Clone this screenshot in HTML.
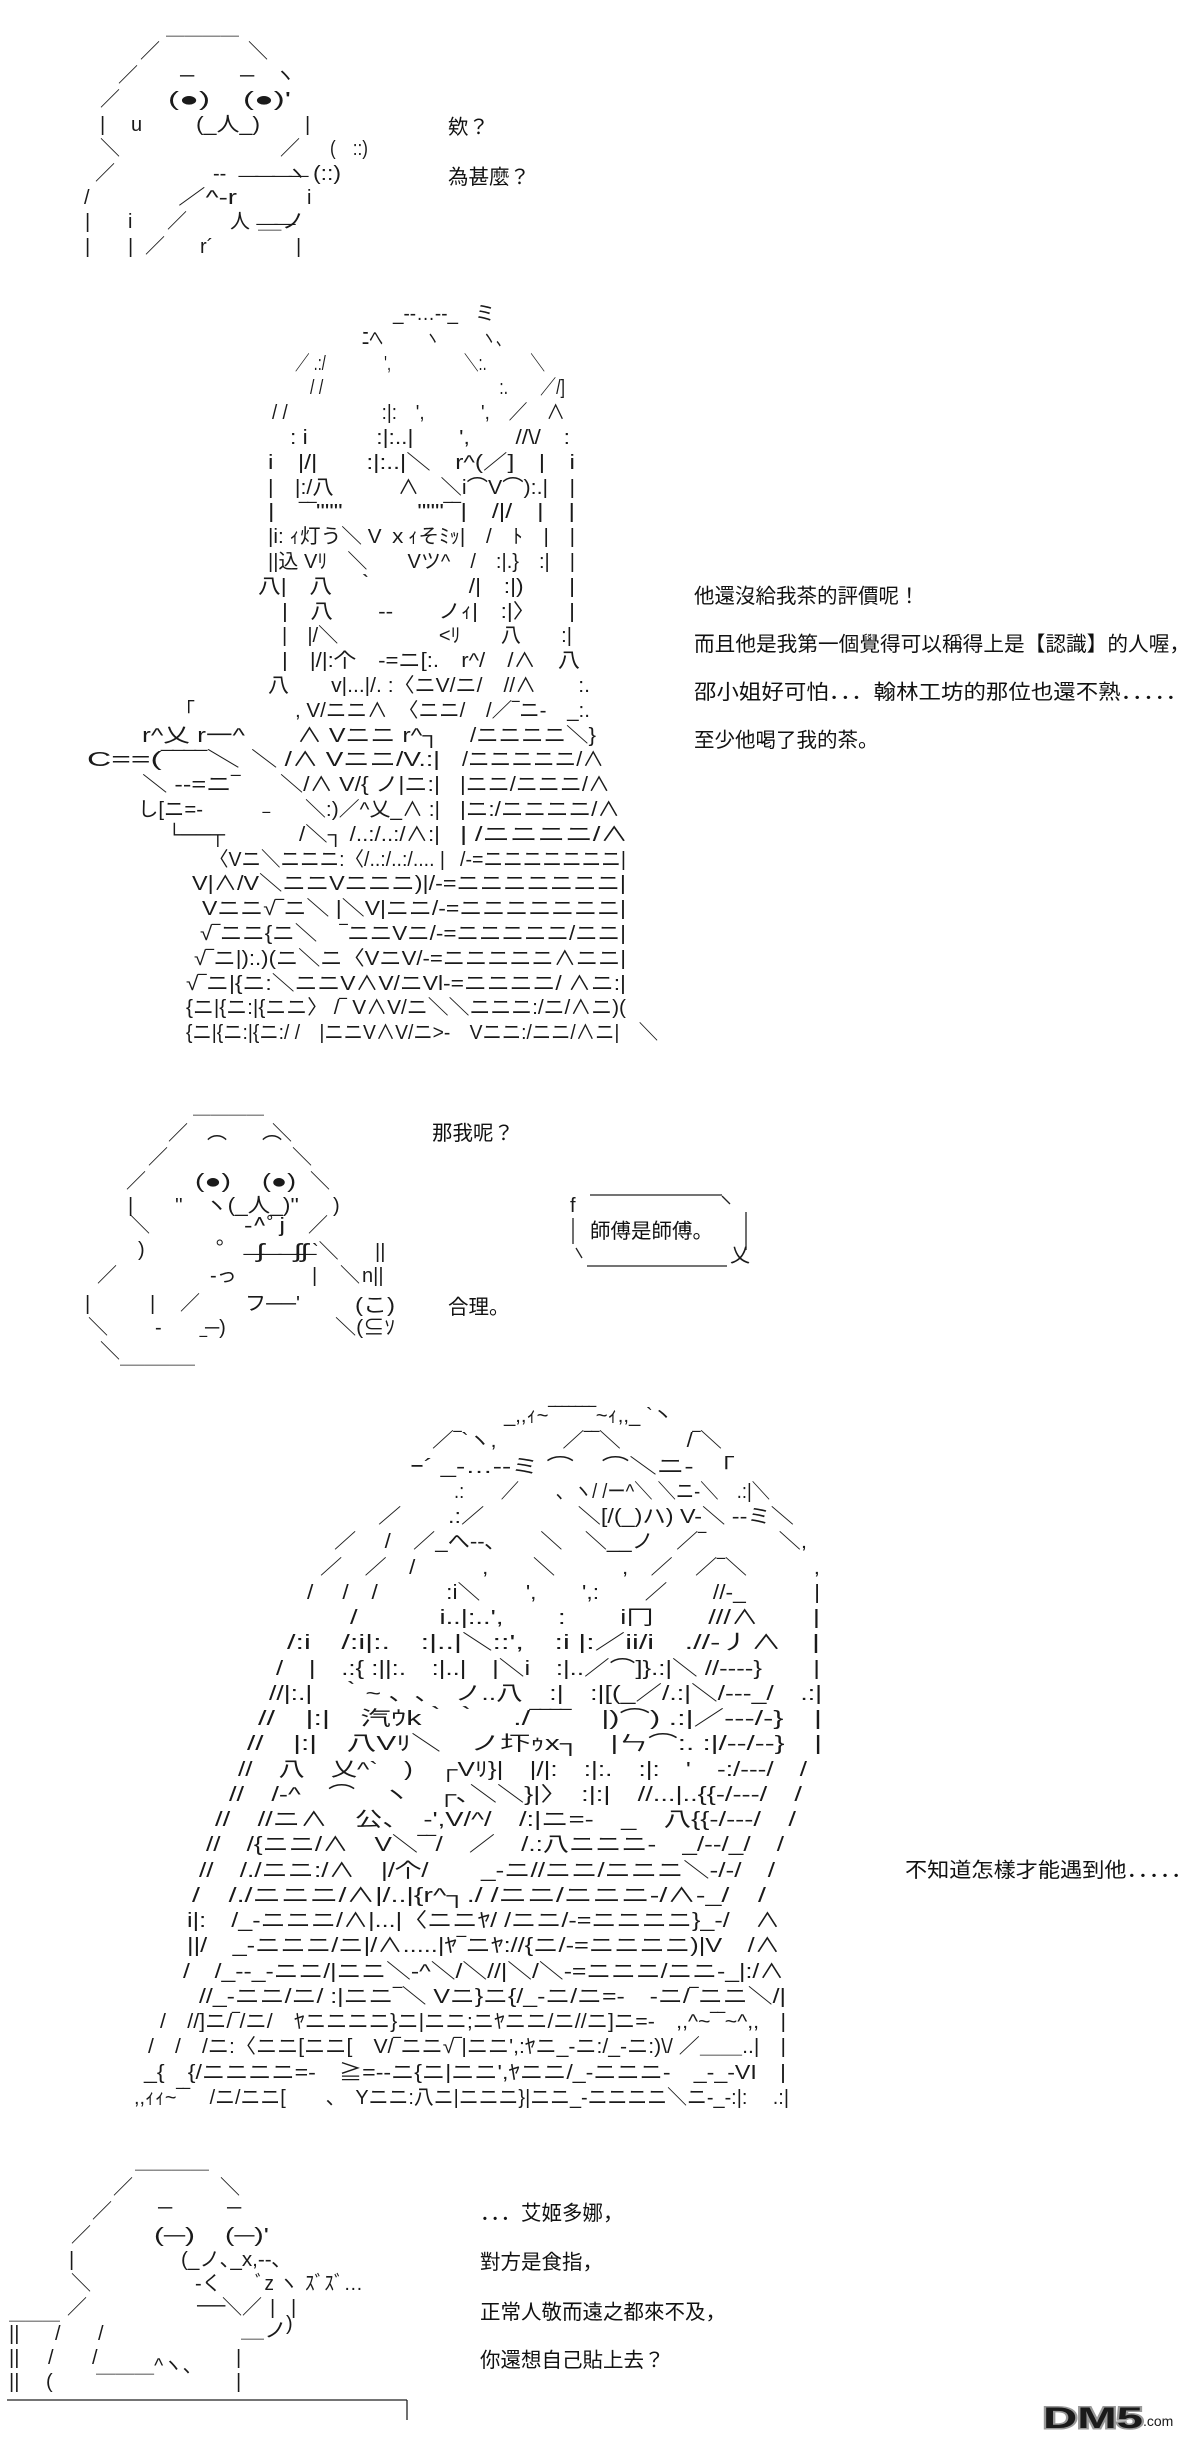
<!DOCTYPE html>
<html><head><meta charset="utf-8"><style>
html,body{margin:0;padding:0;background:#fff;}
svg{display:block}
text{font-family:"Liberation Sans","Noto Sans CJK JP",sans-serif;fill:#1a1a1a;white-space:pre}
.a{font-size:20px}
.t{font-size:20.5px;fill:#111}
</style></head><body>
<svg width="1200" height="2446" viewBox="0 0 1200 2446" xmlns="http://www.w3.org/2000/svg" xml:space="preserve">
<rect width="1200" height="2446" fill="#fff"/>

<!-- Panel 1 -->
<g class="a">
<text x="166" y="34" textLength="73" lengthAdjust="spacingAndGlyphs">＿＿＿＿</text>
<text x="140" y="58">／</text><text x="248" y="58">＼</text>
<text x="118" y="82">／</text><text x="180" y="82">─</text><text x="240" y="82">─</text><text x="275" y="82">ヽ</text>
<text x="100" y="106">／</text><text x="168" y="106" textLength="42" lengthAdjust="spacingAndGlyphs">(●)</text><text x="243" y="106" textLength="48" lengthAdjust="spacingAndGlyphs">(●)'</text>
<text x="100" y="131">|</text><text x="131" y="131">u</text><text x="196" y="131" textLength="64" lengthAdjust="spacingAndGlyphs">(_人_)</text><text x="305" y="131">|</text>
<text x="100" y="155">＼</text><text x="280" y="155">／</text><text x="330" y="155" textLength="38" lengthAdjust="spacingAndGlyphs">(　::)</text>
<text x="95" y="180">／</text><text x="213" y="180">‐‐</text><text x="287" y="180">ヽ</text><text x="313" y="180" textLength="28" lengthAdjust="spacingAndGlyphs">(::)</text>
<text x="84" y="204">/</text><text x="178" y="204" textLength="59" lengthAdjust="spacingAndGlyphs">／^‐r</text><text x="240" y="192" textLength="67" lengthAdjust="spacingAndGlyphs">‾‾‾‾</text><text x="307" y="204">i</text>
<text x="85" y="228">|</text><text x="128" y="228">i</text><text x="167" y="228">／</text><text x="230" y="228">人</text><text x="258" y="228" textLength="47" lengthAdjust="spacingAndGlyphs">＿ノ</text>
<text x="85" y="253">|</text><text x="128" y="253">|</text><text x="145" y="253">／</text><text x="200" y="253">r´</text><text x="258" y="240" textLength="36" lengthAdjust="spacingAndGlyphs">‾‾</text><text x="296" y="253">|</text>
</g>
<text class="t" x="448" y="134">欸？</text>
<text class="t" x="448" y="184">為甚麼？</text>

<!-- Figure A -->
<g class="a">
<text x="393" y="320" textLength="65" lengthAdjust="spacingAndGlyphs">_-‐…‐-_</text><text x="475" y="320">ミ</text>
<text x="362" y="345" textLength="148" lengthAdjust="spacingAndGlyphs">ﾆへ　　　ヽ　　　ヽ、</text>
<text x="295" y="370" textLength="250" lengthAdjust="spacingAndGlyphs">／ .:/　　　　',　　　　　＼:.　　　＼</text>
<text x="310" y="394" textLength="255" lengthAdjust="spacingAndGlyphs">/ /　　　　　　　　　　　:.　　／/]</text>
<text x="272" y="419" textLength="293" lengthAdjust="spacingAndGlyphs">/ /　　　　　:|:　',　　　',　／　∧</text>
<text x="290" y="444" textLength="280" lengthAdjust="spacingAndGlyphs">: i　　　:|:..|　　',　　//\/　:</text>
<text x="268" y="469" textLength="307" lengthAdjust="spacingAndGlyphs">i　|/|　　:|:..|＼　r^(／]　|　i</text>
<text x="268" y="494" textLength="307" lengthAdjust="spacingAndGlyphs">|　|:/八　　　∧　＼i⌒V⌒):.|　|</text>
<text x="268" y="518" textLength="307" lengthAdjust="spacingAndGlyphs">|　‾‾"""　　　"""‾‾|　/|/　|　|</text>
<text x="268" y="543" textLength="307" lengthAdjust="spacingAndGlyphs">|i: ｨ灯う＼ V ｘｨそﾐｯ|　/　ﾄ　|　|</text>
<text x="268" y="568" textLength="307" lengthAdjust="spacingAndGlyphs">||込 Vﾘ　＼　　Vツ^　/　:|.}　:|　|</text>
<text x="258" y="593" textLength="317" lengthAdjust="spacingAndGlyphs">八|　八　｀　　　　/|　:|)　　|</text>
<text x="282" y="618" textLength="293" lengthAdjust="spacingAndGlyphs">|　八　　‐‐　　ノｨ|　:|〉　　|</text>
<text x="282" y="642" textLength="290" lengthAdjust="spacingAndGlyphs">|　|/＼　　　　　&lt;ﾘ　　八　　:|</text>
<text x="282" y="667" textLength="298" lengthAdjust="spacingAndGlyphs">|　|/|:个　-=ニ[:.　r^/　/∧　八</text>
<text x="268" y="692" textLength="322" lengthAdjust="spacingAndGlyphs">八　　v|...|/. :〈ニV/ニ/　//∧　　:.</text>
<text x="175" y="717">「</text><text x="295" y="717" textLength="295" lengthAdjust="spacingAndGlyphs">, V/ニニ∧　〈ニニ/　/／‾ニ-　_:.</text>
<text x="142" y="742" textLength="103" lengthAdjust="spacingAndGlyphs">r^乂 r一^</text><text x="297" y="742" textLength="143" lengthAdjust="spacingAndGlyphs">∧ Vニニ r^┐</text><text x="470" y="742" textLength="126" lengthAdjust="spacingAndGlyphs">/ニニニニ＼}</text>
<text x="87" y="766" textLength="153" lengthAdjust="spacingAndGlyphs">C==(‾‾‾‾＼</text><text x="251" y="766" textLength="189" lengthAdjust="spacingAndGlyphs">＼ /∧ Vニニ/V.:|</text><text x="462" y="766" textLength="142" lengthAdjust="spacingAndGlyphs">/ニニニニニ/∧</text>
<text x="142" y="791" textLength="98" lengthAdjust="spacingAndGlyphs">＼ --=ニ‾</text><text x="280" y="791" textLength="160" lengthAdjust="spacingAndGlyphs">＼/∧ V/{ ノ|ニ:|</text><text x="460" y="791" textLength="150" lengthAdjust="spacingAndGlyphs">|ニニ/ニニニ/∧</text>
<text x="138" y="816" textLength="65" lengthAdjust="spacingAndGlyphs">し[ニ=-</text><text x="305" y="816" textLength="135" lengthAdjust="spacingAndGlyphs">＼:)／^乂_∧ :|</text><text x="460" y="816" textLength="160" lengthAdjust="spacingAndGlyphs">|ニ:/ニニニニ/∧</text>
<text x="167" y="841" textLength="58" lengthAdjust="spacingAndGlyphs">└──┬</text><text x="263" y="828">‾</text><text x="299" y="841" textLength="141" lengthAdjust="spacingAndGlyphs">/＼┐ /..:/..:/∧:|</text><text x="460" y="841" textLength="168" lengthAdjust="spacingAndGlyphs">| /ニニニニ/∧</text>
<text x="209" y="866" textLength="236" lengthAdjust="spacingAndGlyphs">〈Vニ＼ニニニ:〈/..:/..:/.... |</text><text x="460" y="866" textLength="166" lengthAdjust="spacingAndGlyphs">/-=ニニニニニニニ|</text>
<text x="192" y="890" textLength="434" lengthAdjust="spacingAndGlyphs">V|∧/V＼ニニVニニニ)|/-=ニニニニニニニ|</text>
<text x="202" y="915" textLength="424" lengthAdjust="spacingAndGlyphs">Vニニ√‾ニ＼ |＼V|ニニ/-=ニニニニニニニ|</text>
<text x="200" y="940" textLength="426" lengthAdjust="spacingAndGlyphs">√‾ニニ{ニ＼　‾ニニVニ/-=ニニニニニ/ニニ|</text>
<text x="194" y="965" textLength="432" lengthAdjust="spacingAndGlyphs">√‾ニ|):.)(ニ＼ニ〈VニV/-=ニニニニニ∧ニニ|</text>
<text x="186" y="990" textLength="440" lengthAdjust="spacingAndGlyphs">√‾ニ|{ニ:＼ニニV∧V/ニVl-=ニニニニ/ ∧ニ:|</text>
<text x="186" y="1014" textLength="440" lengthAdjust="spacingAndGlyphs">{ニ|{ニ:|{ニニ〉 /‾ V∧V/ニ＼＼ニニニ:/ニ/∧ニ)(</text>
<text x="186" y="1039" textLength="472" lengthAdjust="spacingAndGlyphs">{ニ|{ニ:|{ニ:/ /　|ニニV∧V/ニ&gt;-　Vニニ:/ニニ/∧ニ|　＼</text>
</g>
<text class="t" x="694" y="603">他還沒給我茶的評價呢！</text>
<text class="t" x="694" y="651" textLength="496" lengthAdjust="spacingAndGlyphs">而且他是我第一個覺得可以稱得上是【認識】的人喔，</text>
<text class="t" x="694" y="699" textLength="494" lengthAdjust="spacingAndGlyphs">邵小姐好可怕．．．翰林工坊的那位也還不熟．．．．．</text>
<text class="t" x="694" y="747">至少他喝了我的茶。</text>

<!-- Panel 3 -->
<g class="a">
<text x="193" y="1113" textLength="71" lengthAdjust="spacingAndGlyphs">＿＿＿＿</text>
<text x="168" y="1140">／</text><text x="272" y="1140">＼</text>
<text x="207" y="1152">⌒</text><text x="262" y="1152">⌒</text>
<text x="148" y="1164">／</text><text x="292" y="1164">＼</text>
<text x="126" y="1188">／</text><text x="195" y="1188" textLength="36" lengthAdjust="spacingAndGlyphs">(●)</text><text x="262" y="1188" textLength="34" lengthAdjust="spacingAndGlyphs">(●)</text><text x="310" y="1188">＼</text>
<text x="128" y="1212">|</text><text x="175" y="1212">''</text><text x="205" y="1212" textLength="94" lengthAdjust="spacingAndGlyphs">ヽ(_人_)''</text><text x="333" y="1212">)</text>
<text x="130" y="1232">＼</text><text x="244" y="1232" textLength="41" lengthAdjust="spacingAndGlyphs">‐^ﾟj</text><text x="308" y="1232">／</text>
<text x="216" y="1244">｡</text>
<text x="138" y="1256">)</text><text x="257" y="1258" textLength="51" lengthAdjust="spacingAndGlyphs">ʃ　ʃʃ</text><text x="312" y="1258">`＼</text><text x="375" y="1258">||</text>
<text x="97" y="1282">／</text><text x="210" y="1282">‐っ</text><text x="245" y="1270" textLength="70" lengthAdjust="spacingAndGlyphs">‾‾‾‾</text><text x="312" y="1282">|</text><text x="340" y="1282">＼</text><text x="362" y="1282">n||</text>
<text x="85" y="1310">|</text><text x="150" y="1310">|</text><text x="180" y="1310">／</text><text x="245" y="1310" textLength="55" lengthAdjust="spacingAndGlyphs">フ──'</text><text x="355" y="1312" textLength="40" lengthAdjust="spacingAndGlyphs">(こ)</text>
<text x="88" y="1334">＼</text><text x="155" y="1334">‐</text><text x="205" y="1334">─)</text><text x="335" y="1334" textLength="60" lengthAdjust="spacingAndGlyphs">＼(⊆ｿ</text>
<text x="100" y="1358">＼</text><text x="200" y="1352">‾</text>
<text x="120" y="1363" textLength="75" lengthAdjust="spacingAndGlyphs">＿＿＿</text>
</g>
<text class="t" x="432" y="1140">那我呢？</text>
<text class="t" x="448" y="1314">合理。</text>
<g stroke="#222" stroke-width="1.3" fill="none">
<line x1="590" y1="1195" x2="722" y2="1195"/>
<line x1="587" y1="1266" x2="727" y2="1266"/>
<line x1="573" y1="1218" x2="573" y2="1244"/>
<line x1="746" y1="1212" x2="746" y2="1250"/>
<path d="M722 1196 L730 1204"/>
<path d="M576 1248 L582 1258"/>
</g>
<text class="a" x="570" y="1212" font-size="16">f</text>
<text class="a" x="730" y="1262">乂</text>
<text class="t" x="590" y="1238">師傅是師傅。</text>

<!-- Figure B -->
<g class="a">
<text x="504" y="1422" textLength="169" lengthAdjust="spacingAndGlyphs">_,,ｨ~‾‾‾‾‾‾‾~ｨ,,_ `丶</text>
<text x="432" y="1447" textLength="290" lengthAdjust="spacingAndGlyphs">／‾`ヽ,　　　／‾‾＼　　　/‾＼</text>
<text x="410" y="1473" textLength="325" lengthAdjust="spacingAndGlyphs">ｰ´ _-…‐-ミ ⌒　⌒＼ニ-　「</text>
<text x="454" y="1498" textLength="316" lengthAdjust="spacingAndGlyphs">.:　　／　　、ヽ/ /ー^＼ ＼ニ-＼　.:|＼</text>
<text x="378" y="1523" textLength="416" lengthAdjust="spacingAndGlyphs">／　　.:／　　　　＼[/(_)ハ) V-＼ ‐-ミ＼</text>
<text x="334" y="1548" textLength="473" lengthAdjust="spacingAndGlyphs">／　 /　／_へ‐‐､　　＼　＼__ノ　／‾　　　 ＼,</text>
<text x="320" y="1574" textLength="500" lengthAdjust="spacingAndGlyphs">／　／　/　　　,　　＼　　　,　／　／‾＼　　　,</text>
<text x="307" y="1599" textLength="513" lengthAdjust="spacingAndGlyphs">/　 /　/　　　:i＼　　',　　',:　　／　　//‐_　　　|</text>
<text x="350" y="1624" textLength="470" lengthAdjust="spacingAndGlyphs">/　　　i..|:..',　　:　　i冂　　///∧　　|</text>
<text x="287" y="1649" textLength="533" lengthAdjust="spacingAndGlyphs">/:i　/:i|:.　:|..|＼::',　:i |:／ii/i　.//‐丿∧　|</text>
<text x="276" y="1675" textLength="544" lengthAdjust="spacingAndGlyphs">/　|　.:{ :||:.　:|..|　|＼i　:|..／⌒]}.:|＼ //‐‐‐‐}　　|</text>
<text x="269" y="1700" textLength="553" lengthAdjust="spacingAndGlyphs">//|:.|　｀~ 、､　ノ..八　:|　:|[(_／/.:|＼/‐‐‐_/　.:|</text>
<text x="258" y="1725" textLength="564" lengthAdjust="spacingAndGlyphs">//　|:|　汽ｳk｀｀　./‾‾‾‾　|)⌒) .:|／‐‐‐/‐}　|</text>
<text x="247" y="1750" textLength="575" lengthAdjust="spacingAndGlyphs">//　|:|　八Vﾘ＼　ノ圷ｩx┐　|ㄣ⌒:. :|/‐‐/‐‐}　|</text>
<text x="238" y="1776" textLength="569" lengthAdjust="spacingAndGlyphs">//　八　乂^`　)　┌Vﾘ}|　|/|:　:|:.　:|:　'　-:/‐‐‐/　/</text>
<text x="229" y="1801" textLength="573" lengthAdjust="spacingAndGlyphs">//　/‐^　⌒　ヽ　┌､＼＼}|〉　:|:|　//...|..{{‐/‐‐‐/　/</text>
<text x="215" y="1826" textLength="581" lengthAdjust="spacingAndGlyphs">//　//ニ∧　公、　-',V/^/　/:|ニ=-　_　八{{‐/‐‐‐/　/</text>
<text x="206" y="1851" textLength="578" lengthAdjust="spacingAndGlyphs">//　/{ニニ/∧　V＼‾‾/　／　/.:八ニニニ-　_/‐‐/_/　/</text>
<text x="199" y="1877" textLength="576" lengthAdjust="spacingAndGlyphs">//　/./ニニ:/∧　|/个/　　_‐ニ//ニニ/ニニニ＼‐/‐/　/</text>
<text x="192" y="1902" textLength="574" lengthAdjust="spacingAndGlyphs">/　/./ニニニ/∧|/..|{r^┐./ /ニニ/ニニニ-/∧‐_/　/</text>
<text x="187" y="1927" textLength="593" lengthAdjust="spacingAndGlyphs">i|:　/_‐ニニニ/∧|...|〈ニニﾔ/ /ニニ/-=ニニニニ}_‐/　∧</text>
<text x="187" y="1952" textLength="593" lengthAdjust="spacingAndGlyphs">||/　_‐ニニニ/ニ|/∧.....|ﾔ‾ニﾔ://{ニ/-=ニニニニ)|V　/∧</text>
<text x="183" y="1978" textLength="601" lengthAdjust="spacingAndGlyphs">/　/_‐‐_‐ニニ/|ニニ＼‐^＼/＼//|＼/＼‐=ニニニ/ニニ-_|:/∧</text>
<text x="199" y="2003" textLength="587" lengthAdjust="spacingAndGlyphs">//_‐ニニ/ニ/ :|ニニ‾＼ Vニ}ニ{/_-ニ/ニ=-　-ニ/‾ニニ＼/|</text>
<text x="160" y="2028" textLength="626" lengthAdjust="spacingAndGlyphs">/　//]ニ/‾/ニ/　ﾔニニニニ}ニ|ニニ;ニﾔニニ/ニ//ニ]ニ=-　,,^~‾‾~^,,　|</text>
<text x="148" y="2053" textLength="638" lengthAdjust="spacingAndGlyphs">/　/　/ニ:〈ニニ[ニニ[　V/‾ニニ√‾|ニニ',:ﾔニ_-ニ:/_-ニ:)\/ ／＿＿..|　|</text>
<text x="144" y="2079" textLength="642" lengthAdjust="spacingAndGlyphs">_{　{/ニニニニ=-　≧=‐‐ニ{ニ|ニニ',ﾔニニ/_-ニニニ-　_-_-VI　|</text>
<text x="134" y="2104" textLength="655" lengthAdjust="spacingAndGlyphs">,,ｨｨ~‾‾　/ニ/ニニ[　　、　Yニニ:八ニ|ニニニ}|ニニ_-ニニニニ＼ニ-_-:|:　 .:|</text>
</g>
<text class="t" x="905" y="1877" textLength="288" lengthAdjust="spacingAndGlyphs">不知道怎樣才能遇到他．．．．．</text>

<!-- Panel 5 -->
<g class="a">
<text x="135" y="2168" textLength="74" lengthAdjust="spacingAndGlyphs">＿＿＿＿</text>
<text x="113" y="2194">／</text><text x="220" y="2194">＼</text>
<text x="92" y="2218">／</text><text x="158" y="2214">─</text><text x="227" y="2214">─</text>
<text x="71" y="2242">／</text><text x="154" y="2242" textLength="41" lengthAdjust="spacingAndGlyphs">(─)</text><text x="225" y="2242" textLength="44" lengthAdjust="spacingAndGlyphs">(─)'</text>
<text x="69" y="2266">|</text><text x="181" y="2266" textLength="101" lengthAdjust="spacingAndGlyphs">(_ノ､_x,‐‐､</text>
<text x="71" y="2290">＼</text><text x="195" y="2290">‐く</text><text x="255" y="2290" textLength="43" lengthAdjust="spacingAndGlyphs">ﾞz ヽ</text><text x="305" y="2290" textLength="58" lengthAdjust="spacingAndGlyphs">ｽﾞｽﾞ…</text>
<text x="67" y="2314">／</text><text x="197" y="2312">──</text><text x="222" y="2314">＼／</text><text x="270" y="2314">|</text><text x="291" y="2314">|</text>
<text x="9" y="2319" textLength="51" lengthAdjust="spacingAndGlyphs">＿＿＿</text>
<text x="9" y="2340">||</text><text x="55" y="2340">/</text><text x="98" y="2340">/</text><text x="286" y="2330">)</text>
<text x="241" y="2337" textLength="46" lengthAdjust="spacingAndGlyphs">＿ノ</text>
<text x="9" y="2364">||</text><text x="48" y="2364">/</text><text x="92" y="2364">/</text><text x="236" y="2364">|</text>
<text x="96" y="2372" textLength="106" lengthAdjust="spacingAndGlyphs">＿＿＿^ヽ、</text>
<text x="9" y="2388">||</text><text x="46" y="2388">(</text><text x="236" y="2388">|</text>
</g>
<g stroke="#222" stroke-width="1.3">
<line x1="7" y1="2400" x2="407" y2="2400"/>
<line x1="407" y1="2400" x2="407" y2="2420"/>
</g>
<text class="t" x="480" y="2220">．．．艾姬多娜，</text>
<text class="t" x="480" y="2269">對方是食指，</text>
<text class="t" x="480" y="2319">正常人敬而遠之都來不及，</text>
<text class="t" x="480" y="2367">你還想自己貼上去？</text>

<!-- logo -->
<text x="1043" y="2428" font-size="30" font-weight="bold" fill="#fff" stroke="#999" stroke-width="3" style="font-family:'Liberation Sans',sans-serif;paint-order:stroke" textLength="100" lengthAdjust="spacingAndGlyphs">DM5</text>
<text x="1143" y="2426" font-size="14" fill="#999" style="font-family:'Liberation Sans',sans-serif">.com</text>
</svg>
</body></html>
